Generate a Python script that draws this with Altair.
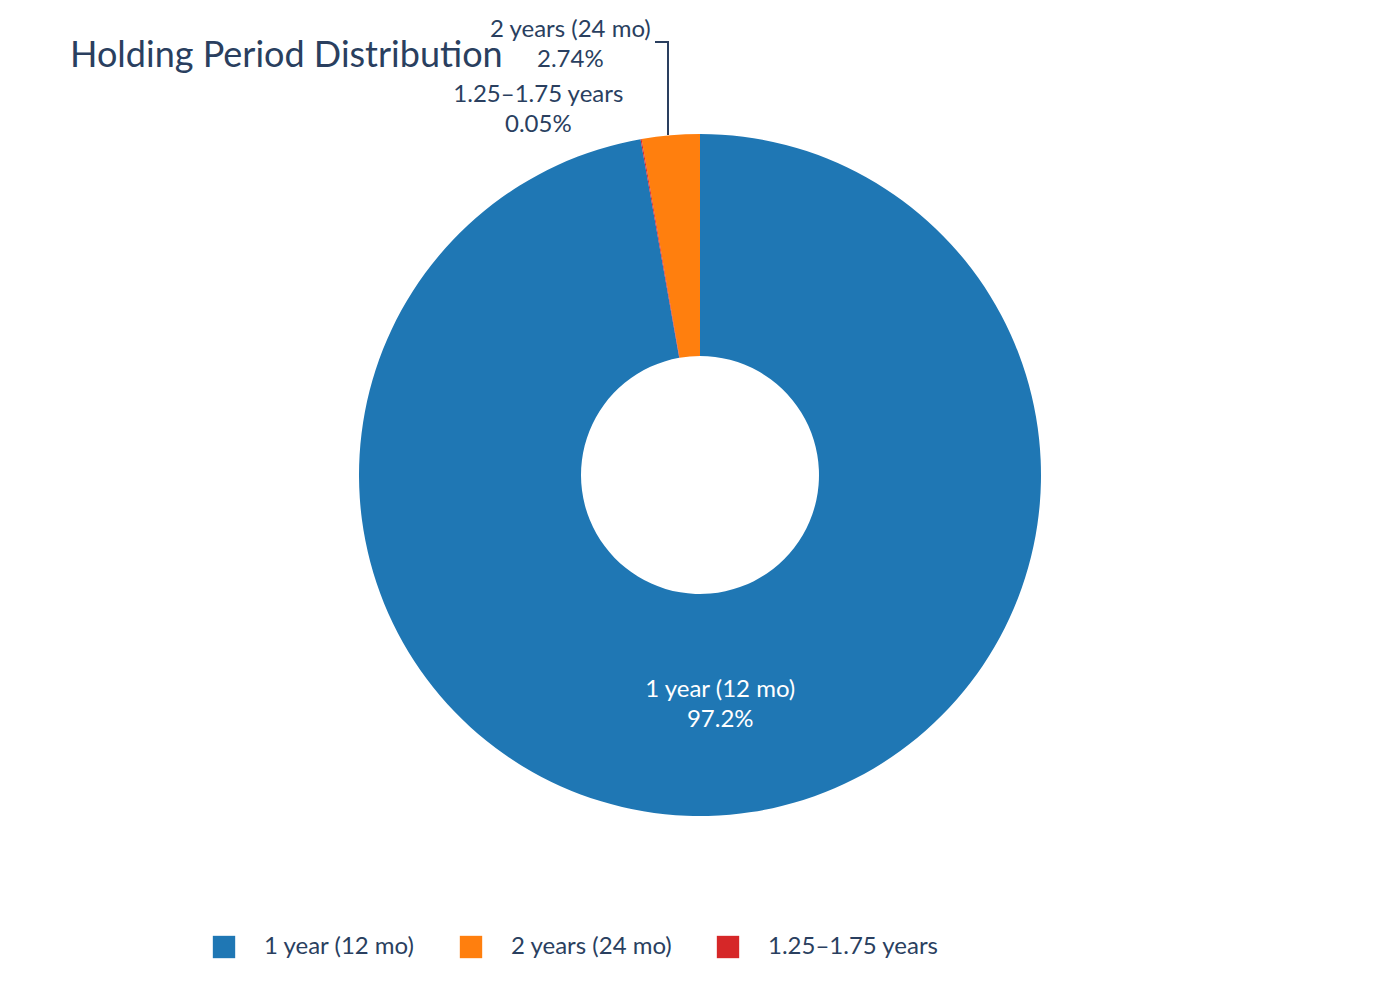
import altair as alt
import pandas as pd

# slice data (clockwise from 12 o'clock: blue, red, orange)
periods = ["1 year (12 mo)", "2 years (24 mo)", "1.25–1.75 years"]
shares = [97.2, 2.74, 0.05]
pct_labels = ["97.2%", "2.74%", "0.05%"]
draw_order = [0, 2, 1]
colors = ["#1f77b4", "#ff7f0e", "#d62728"]

TEXT = "#2a3f5f"
FONT = "Lato"
W, H = 1376, 976
CX, CY = 692, 467

df = pd.DataFrame(
    {
        "period": periods,
        "share": shares,
        "pct": pct_labels,
        "ord": draw_order,
        "label": [f"{p}\n{t}" for p, t in zip(periods, pct_labels)],
    }
)

base = alt.Chart(df).encode(
    theta=alt.Theta("share:Q", stack=True),
    order=alt.Order("ord:Q"),
)

arcs = base.mark_arc(outerRadius=341, innerRadius=119).encode(
    x=alt.value(CX),
    y=alt.value(CY),
    color=alt.Color(
        "period:N",
        scale=alt.Scale(domain=periods, range=colors),
        legend=alt.Legend(
            title=None,
            orient="none",
            direction="horizontal",
            legendX=204,
            legendY=927,
            symbolType="square",
            symbolSize=500,
            symbolStrokeWidth=0,
            symbolOpacity=1,
            labelFontSize=24,
            labelFont=FONT,
            labelColor=TEXT,
            labelOffset=28,
            columnPadding=43,
            labelLimit=400,
        ),
    ),
)


def slice_label(name, radius, color, dx=0, dy=0):
    return base.mark_text(
        radius=radius,
        fontSize=24,
        font=FONT,
        color=color,
        lineBreak="\n",
        lineHeight=30,
        baseline="middle",
        dx=dx,
        dy=dy,
    ).encode(
        x=alt.value(CX),
        y=alt.value(CY),
        text="label:N",
        opacity=alt.condition(alt.datum.period == name, alt.value(1), alt.value(0)),
    )


inside = slice_label(periods[0], 231, "white", dy=-15)
orange_lbl = slice_label(periods[1], 380, TEXT, dx=-97, dy=-66)
red_lbl = slice_label(periods[2], 380, TEXT, dx=-96, dy=-6)

leader_h = alt.Chart(df).mark_rule(color=TEXT, strokeWidth=2).encode(
    x=alt.value(647), x2=alt.value(661), y=alt.value(34), y2=alt.value(34)
)
leader_v = alt.Chart(df).mark_rule(color=TEXT, strokeWidth=2).encode(
    x=alt.value(660), x2=alt.value(660), y=alt.value(34), y2=alt.value(127)
)

title = alt.Chart(pd.DataFrame({"t": ["Holding Period Distribution"]})).mark_text(
    align="left",
    baseline="alphabetic",
    fontSize=36,
    font=FONT,
    color=TEXT,
).encode(x=alt.value(62), y=alt.value(59), text="t:N")

chart = (
    alt.layer(arcs, inside, orange_lbl, red_lbl, leader_h, leader_v, title)
    .properties(
        width=W,
        height=H,
        padding=0,
        autosize=alt.AutoSizeParams(type="none"),
        view=alt.ViewBackground(strokeWidth=0, strokeOpacity=0),
    )
    .configure_view(strokeWidth=0, strokeOpacity=0)
    .configure(background="white")
)

chart.save("out.html", embed_options={"renderer": "svg", "actions": False})
